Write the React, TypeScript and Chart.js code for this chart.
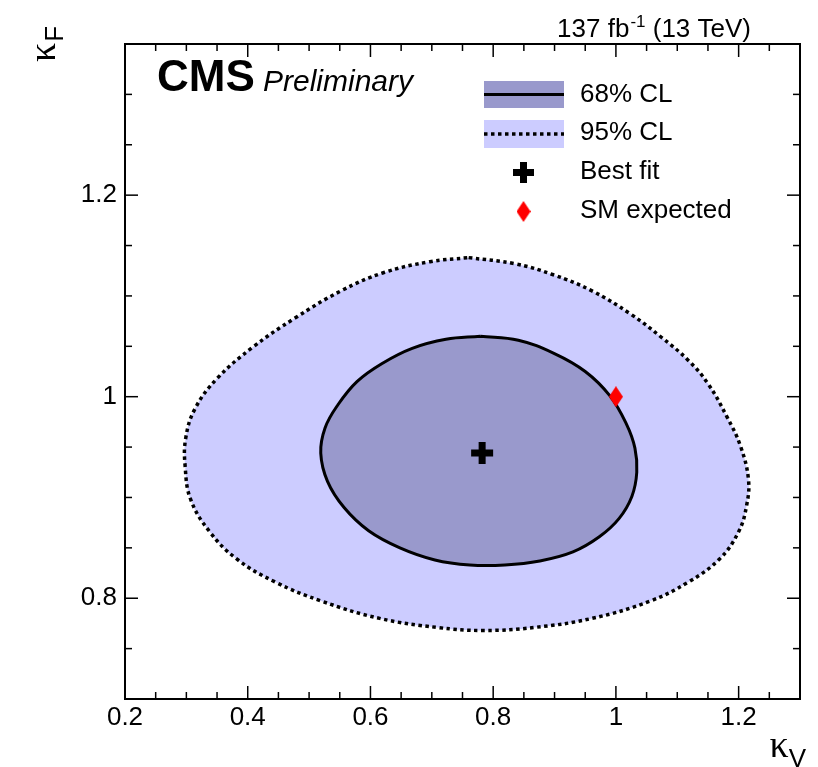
import React, { useEffect, useRef } from "react";
import { Chart, registerables } from "chart.js";

Chart.register(...registerables);

// 95% CL contour (kappa_V, kappa_F)
const cl95X = [0.760, 0.835, 0.898, 0.961, 1.024, 1.074, 1.118, 1.150, 1.181, 1.203, 1.216, 1.213, 1.200, 1.169, 1.118, 1.055, 0.961, 0.867, 0.785, 0.709, 0.615, 0.521, 0.445, 0.382, 0.338, 0.307, 0.298, 0.299, 0.314, 0.350, 0.408, 0.477, 0.552, 0.621, 0.697];
const cl95Y = [1.138, 1.132, 1.121, 1.105, 1.082, 1.059, 1.036, 1.013, 0.980, 0.951, 0.918, 0.892, 0.866, 0.839, 0.816, 0.797, 0.780, 0.771, 0.768, 0.771, 0.780, 0.797, 0.816, 0.839, 0.866, 0.898, 0.931, 0.959, 0.988, 1.018, 1.049, 1.078, 1.105, 1.123, 1.134];

// 68% CL contour
const cl68X = [0.779, 0.841, 0.899, 0.950, 0.990, 1.017, 1.031, 1.034, 1.026, 1.005, 0.973, 0.930, 0.876, 0.819, 0.762, 0.705, 0.648, 0.597, 0.557, 0.530, 0.519, 0.526, 0.547, 0.578, 0.619, 0.668, 0.723];
const cl68Y = [1.060, 1.056, 1.043, 1.025, 1.001, 0.973, 0.949, 0.925, 0.901, 0.879, 0.861, 0.846, 0.837, 0.833, 0.833, 0.838, 0.850, 0.867, 0.890, 0.916, 0.944, 0.969, 0.992, 1.015, 1.033, 1.048, 1.057];

const bestFitX = [0.782];
const bestFitY = [0.944];
const smX = [1.0];
const smY = [1.0];

const xTickValues = [0.2, 0.4, 0.6, 0.8, 1.0, 1.2];
const xTickLabels = ["0.2", "0.4", "0.6", "0.8", "1", "1.2"];
const xMinorTicks = [0.25, 0.3, 0.35, 0.45, 0.5, 0.55, 0.65, 0.7, 0.75, 0.85, 0.9, 0.95, 1.05, 1.1, 1.15, 1.25];
const yTickValues = [0.8, 1.0, 1.2];
const yTickLabels = ["0.8", "1", "1.2"];
const yMinorTicks = [0.75, 0.85, 0.9, 0.95, 1.05, 1.1, 1.15, 1.25, 1.3];

const legendLabels = ["68% CL", "95% CL", "Best fit", "SM expected"];

const FILL68 = "#9999cc";
const FILL95 = "#ccccff";
const SANS = '"Liberation Sans", Arial, Helvetica, sans-serif';
const SERIF = '"Liberation Serif", "DejaVu Serif", serif';

function loop(xs: number[], ys: number[]) {
  const pts = xs.map((x, i) => ({ x, y: ys[i] }));
  pts.push({ x: xs[0], y: ys[0] });
  return pts;
}

function makeDiamond(w: number, h: number, color: string) {
  const c = document.createElement("canvas");
  c.width = w;
  c.height = h;
  const g = c.getContext("2d")!;
  g.fillStyle = color;
  g.beginPath();
  g.moveTo(w / 2, 0);
  g.lineTo(w, h / 2);
  g.lineTo(w / 2, h);
  g.lineTo(0, h / 2);
  g.closePath();
  g.fill();
  return c;
}

const polyFillPlugin = {
  id: "polyFill",
  beforeDatasetDraw(chart: any, args: any) {
    const ds = chart.data.datasets[args.index];
    const color = ds.polyFill;
    const line = args.meta.dataset;
    if (!color || !line) return;
    const ctx = chart.ctx;
    line.updateControlPoints(chart.chartArea, "x");
    ctx.save();
    ctx.beginPath();
    line.path(ctx);
    ctx.closePath();
    ctx.fillStyle = color;
    ctx.fill();
    ctx.restore();
  },
};

const framePlugin = {
  id: "frameTicks",
  afterDatasetsDraw(chart: any) {
    const { ctx, chartArea, scales } = chart;
    const { left, right, top, bottom } = chartArea;
    const xs = scales.x;
    const ys = scales.y;
    ctx.save();
    ctx.strokeStyle = "#000";
    ctx.lineWidth = 1.5;
    const seg = (x1: number, y1: number, x2: number, y2: number) => {
      ctx.beginPath();
      ctx.moveTo(x1, y1);
      ctx.lineTo(x2, y2);
      ctx.stroke();
    };
    const major = 13;
    const minor = 7;
    xTickValues.forEach((v) => {
      const p = xs.getPixelForValue(v);
      seg(p, bottom, p, bottom - major);
      seg(p, top, p, top + major);
    });
    xMinorTicks.forEach((v) => {
      const p = xs.getPixelForValue(v);
      seg(p, bottom, p, bottom - minor);
      seg(p, top, p, top + minor);
    });
    yTickValues.forEach((v) => {
      const p = ys.getPixelForValue(v);
      seg(left, p, left + major, p);
      seg(right, p, right - major, p);
    });
    yMinorTicks.forEach((v) => {
      const p = ys.getPixelForValue(v);
      seg(left, p, left + minor, p);
      seg(right, p, right - minor, p);
    });
    ctx.lineWidth = 2;
    ctx.strokeRect(left, top, right - left, bottom - top);
    ctx.restore();
  },
};

function makeDecorPlugin(diamond: HTMLCanvasElement) {
  return {
    id: "decor",
    afterDraw(chart: any) {
      const ctx = chart.ctx;
      ctx.save();
      ctx.fillStyle = "#000";
      ctx.textBaseline = "alphabetic";

      // CMS Preliminary
      ctx.textAlign = "left";
      ctx.font = `bold 44px ${SANS}`;
      ctx.fillText("CMS", 157, 91);
      ctx.font = `italic 30px ${SANS}`;
      ctx.fillText("Preliminary", 263, 91);

      // Lumi text, right aligned at 750
      const big = `26px ${SANS}`;
      const sup = `17px ${SANS}`;
      ctx.font = big;
      const w1 = ctx.measureText("137 fb").width;
      const w3 = ctx.measureText(" (13 TeV)").width;
      ctx.font = sup;
      const w2 = ctx.measureText("-1").width;
      const x0 = 750 - (w1 + w2 + w3);
      ctx.font = big;
      ctx.fillText("137 fb", x0, 37);
      ctx.font = sup;
      ctx.fillText("-1", x0 + w1 + 1, 27);
      ctx.font = big;
      ctx.fillText(" (13 TeV)", x0 + w1 + w2 + 1, 37);

      // X axis title kappa_V
      ctx.font = `38px ${SERIF}`;
      const kw = ctx.measureText("κ").width;
      ctx.font = `26px ${SANS}`;
      const vw = ctx.measureText("V").width;
      const kx = 806 - vw - kw;
      ctx.font = `38px ${SERIF}`;
      ctx.fillText("κ", kx, 757);
      ctx.font = `26px ${SANS}`;
      ctx.fillText("V", kx + kw, 767);

      // Y axis title kappa_F (rotated)
      ctx.save();
      ctx.translate(55, 62);
      ctx.rotate(-Math.PI / 2);
      ctx.font = `38px ${SERIF}`;
      ctx.fillText("κ", 0, 0);
      const kw2 = ctx.measureText("κ").width;
      ctx.font = `26px ${SANS}`;
      ctx.fillText("F", kw2 + 1, 8);
      ctx.restore();

      // Legend
      const bx = 484, bw = 80;
      ctx.fillStyle = FILL68;
      ctx.fillRect(bx, 81, bw, 27);
      ctx.strokeStyle = "#000";
      ctx.lineWidth = 3;
      ctx.beginPath();
      ctx.moveTo(bx, 94.5);
      ctx.lineTo(bx + bw, 94.5);
      ctx.stroke();

      ctx.fillStyle = FILL95;
      ctx.fillRect(bx, 120, bw, 28);
      ctx.lineWidth = 3.5;
      ctx.setLineDash([3.5, 3.5]);
      ctx.beginPath();
      ctx.moveTo(bx, 134);
      ctx.lineTo(bx + bw, 134);
      ctx.stroke();
      ctx.setLineDash([]);

      // best fit cross
      ctx.fillStyle = "#000";
      const cx = 523.5, cy = 172.5;
      ctx.fillRect(cx - 10.5, cy - 3.5, 21, 7);
      ctx.fillRect(cx - 3.5, cy - 10.5, 7, 21);

      // SM diamond
      ctx.drawImage(diamond, 523.5 - diamond.width / 2, 211.5 - diamond.height / 2);

      ctx.fillStyle = "#000";
      ctx.font = `26px ${SANS}`;
      ctx.textBaseline = "middle";
      ctx.textAlign = "left";
      const ys = [94.5, 133, 171.5, 210.5];
      legendLabels.forEach((t, i) => ctx.fillText(t, 580, ys[i]));

      ctx.restore();
    },
  };
}

export default function App() {
  const ref = useRef<HTMLCanvasElement | null>(null);

  useEffect(() => {
    const canvas = ref.current;
    if (!canvas) return;
    const diamond = makeDiamond(14, 21, "#ff0000");
    const chart = new Chart(canvas, {
      type: "scatter",
      data: {
        datasets: [
          {
            label: "Best fit",
            data: bestFitX.map((x, i) => ({ x, y: bestFitY[i] })),
            pointStyle: "cross",
            pointRadius: 11,
            pointBorderWidth: 7,
            borderColor: "#000",
            backgroundColor: "#000",
            showLine: false,
          },
          {
            label: "SM expected",
            data: smX.map((x, i) => ({ x, y: smY[i] })),
            pointStyle: diamond as any,
            pointRadius: 10,
            borderColor: "#ff0000",
            backgroundColor: "#ff0000",
            showLine: false,
          },
          {
            label: "68% CL",
            data: loop(cl68X, cl68Y),
            showLine: true,
            borderColor: "#000",
            borderWidth: 3,
            pointRadius: 0,
            tension: 0.4,
            fill: false,
            polyFill: FILL68,
          } as any,
          {
            label: "95% CL",
            data: loop(cl95X, cl95Y),
            showLine: true,
            borderColor: "#000",
            borderWidth: 3.5,
            borderDash: [3.5, 3.5],
            pointRadius: 0,
            tension: 0.4,
            fill: false,
            polyFill: FILL95,
          } as any,
        ],
      },
      options: {
        animation: false,
        responsive: false,
        events: [],
        layout: { padding: { top: 44, right: 18, left: 0, bottom: 0 } },
        plugins: {
          legend: { display: false },
          tooltip: { enabled: false },
        },
        scales: {
          x: {
            type: "linear",
            min: 0.2,
            max: 1.3,
            grid: { display: false, drawTicks: false },
            border: { display: false },
            afterBuildTicks: (s: any) => {
              s.ticks = xTickValues.map((v) => ({ value: v }));
            },
            afterFit: (s: any) => {
              s.height = 68;
            },
            ticks: {
              autoSkip: false,
              maxRotation: 0,
              padding: 3,
              color: "#000",
              font: { family: SANS, size: 26 },
              callback: (_v: any, i: number) => xTickLabels[i],
            },
          },
          y: {
            type: "linear",
            min: 0.7,
            max: 1.35,
            grid: { display: false, drawTicks: false },
            border: { display: false },
            afterBuildTicks: (s: any) => {
              s.ticks = yTickValues.map((v) => ({ value: v }));
            },
            afterFit: (s: any) => {
              s.width = 125;
            },
            ticks: {
              autoSkip: false,
              padding: 8,
              color: "#000",
              font: { family: SANS, size: 26 },
              callback: (_v: any, i: number) => yTickLabels[i],
            },
          },
        },
      },
      plugins: [polyFillPlugin, framePlugin, makeDecorPlugin(diamond)],
    } as any);
    return () => chart.destroy();
  }, []);

  return (
    <div style={{ position: "absolute", left: 0, top: 0, width: 818, height: 767, background: "#fff" }}>
      <canvas ref={ref} width={818} height={767} style={{ display: "block" }} />
    </div>
  );
}
